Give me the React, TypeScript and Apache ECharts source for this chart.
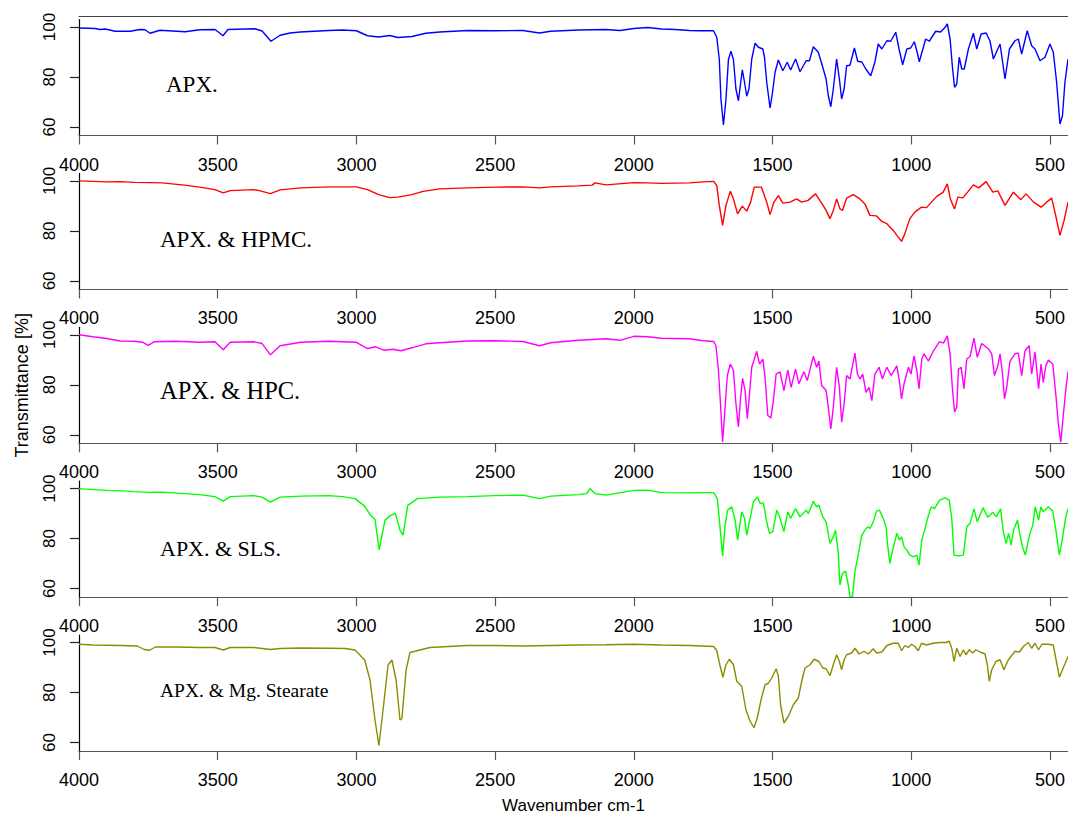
import React, { useEffect, useRef } from "react";
import * as echarts from "echarts";

// ---- data (wavenumber cm-1, transmittance %) ----
const xTicks = [4000, 3500, 3000, 2500, 2000, 1500, 1000, 500];
const yTicks = [60, 80, 100];
const panelLabels = ["APX.", "APX. & HPMC.", "APX. & HPC.", "APX. & SLS.", "APX. & Mg. Stearate"];
const seriesColors = ["#0000ff", "#ff0000", "#ff00ff", "#00ff00", "#8c8c00"];

const apx: [number, number][] = [
  [4000, 99.6], [3942, 99.4], [3924, 99.0], [3906, 99.2], [3870, 98.3], [3816, 98.3], [3780, 99.0], [3762, 98.9],
  [3744, 97.5], [3708, 98.7], [3618, 98.1], [3564, 98.9], [3510, 99.0], [3499, 98.1], [3481, 96.5], [3463, 99.0],
  [3366, 99.3], [3340, 98.4], [3308, 94.3], [3275, 96.7], [3239, 97.6], [3203, 98.0], [3100, 98.6], [3050, 98.8],
  [3000, 98.5], [2960, 96.5], [2920, 96.0], [2880, 96.6], [2850, 95.8], [2800, 96.2], [2750, 97.5], [2700, 98.0],
  [2600, 98.6], [2500, 98.5], [2400, 98.6], [2340, 97.6], [2300, 98.3], [2200, 98.8], [2100, 99.0], [2050, 98.6],
  [2000, 99.4], [1950, 99.8], [1900, 99.2], [1850, 99.0], [1800, 98.6], [1762, 98.5], [1713, 98.5], [1701, 95.9],
  [1692, 87.2], [1686, 71.2], [1677, 60.8], [1668, 71.0], [1659, 87.0], [1650, 90.3], [1641, 87.0], [1632, 75.2],
  [1623, 70.5], [1609, 82.9], [1601, 77.9], [1593, 72.3], [1585, 75.2], [1575, 87.2], [1563, 93.5], [1551, 91.9],
  [1535, 91.2], [1529, 87.9], [1521, 77.9], [1509, 67.6], [1501, 73.1], [1491, 81.9], [1479, 86.8], [1463, 82.5],
  [1447, 85.9], [1435, 82.8], [1417, 87.2], [1401, 82.1], [1379, 86.5], [1367, 86.5], [1353, 92.1], [1335, 89.9],
  [1319, 83.9], [1307, 79.2], [1299, 72.5], [1290, 68.1], [1281, 75.2], [1269, 87.2], [1259, 79.2], [1251, 71.2],
  [1242, 75.2], [1233, 84.5], [1221, 84.7], [1205, 91.6], [1193, 86.3], [1178, 86.0], [1164, 83.2], [1146, 80.5],
  [1131, 86.0], [1119, 93.2], [1106, 91.2], [1088, 94.5], [1074, 94.3], [1056, 97.9], [1044, 91.2], [1031, 84.9],
  [1016, 91.2], [1002, 91.6], [989, 94.1], [980, 90.5], [971, 86.1], [960, 90.5], [948, 95.2], [935, 94.3],
  [912, 98.3], [894, 98.0], [878, 99.9], [870, 101.2], [860, 95.2], [852, 84.5], [844, 75.9], [836, 77.2],
  [827, 87.9], [818, 83.2], [809, 83.2], [794, 91.2], [776, 97.5], [764, 91.2], [748, 97.2], [730, 97.6],
  [716, 94.3], [704, 87.2], [688, 91.2], [680, 93.2], [662, 79.2], [646, 91.2], [626, 94.5], [614, 95.2],
  [602, 89.2], [582, 98.5], [566, 92.5], [554, 91.2], [536, 86.5], [518, 87.9], [500, 93.2], [488, 89.9],
  [476, 77.9], [464, 61.2], [455, 64.5], [446, 77.9], [435, 87.2],
];

const apxHpmc: [number, number][] = [
  [4000, 100.0], [3950, 99.8], [3900, 99.6], [3850, 99.7], [3800, 99.4], [3745, 99.3], [3700, 99.2], [3620, 98.3],
  [3565, 97.5], [3510, 96.5], [3480, 95.2], [3455, 96.1], [3370, 96.5], [3350, 96.1], [3310, 94.9], [3275, 96.4],
  [3200, 97.2], [3100, 97.6], [3000, 97.6], [2960, 96.5], [2920, 94.5], [2880, 93.3], [2850, 93.5], [2800, 94.5],
  [2760, 95.8], [2700, 96.8], [2600, 97.2], [2500, 97.5], [2400, 97.6], [2340, 97.2], [2300, 97.6], [2200, 98.0],
  [2150, 98.3], [2140, 99.2], [2100, 98.4], [2000, 99.3], [1950, 99.2], [1900, 99.0], [1800, 99.2], [1750, 99.6],
  [1712, 99.8], [1701, 98.1], [1692, 90.2], [1680, 82.2], [1668, 90.2], [1652, 95.9], [1641, 92.8], [1626, 86.8],
  [1609, 89.9], [1593, 87.9], [1579, 91.5], [1566, 97.5], [1540, 97.5], [1521, 91.5], [1509, 86.5], [1495, 91.5],
  [1479, 94.1], [1463, 91.1], [1437, 91.5], [1413, 92.8], [1395, 91.5], [1372, 92.2], [1345, 94.8], [1324, 91.3],
  [1307, 88.2], [1293, 84.9], [1281, 88.2], [1269, 92.8], [1257, 88.8], [1248, 88.2], [1233, 93.1], [1209, 94.5],
  [1185, 92.8], [1167, 90.8], [1149, 86.2], [1125, 86.0], [1106, 83.8], [1088, 82.9], [1065, 80.2], [1047, 77.5],
  [1035, 75.8], [1023, 78.9], [1005, 84.9], [987, 87.5], [963, 89.5], [945, 89.3], [927, 91.5], [909, 93.7],
  [885, 95.5], [870, 98.8], [859, 92.8], [844, 88.8], [832, 93.5], [814, 93.2], [797, 95.5], [776, 98.4],
  [757, 97.2], [730, 99.7], [706, 95.5], [688, 96.0], [662, 90.2], [632, 95.5], [605, 92.5], [586, 94.8],
  [560, 91.6], [532, 89.5], [512, 91.5], [494, 93.1], [482, 87.5], [464, 78.2], [449, 84.2], [435, 91.5],
];

const apxHpc: [number, number][] = [
  [4000, 100.0], [3950, 99.2], [3900, 98.5], [3852, 97.5], [3800, 97.4], [3770, 97.0], [3750, 95.8], [3730, 97.2],
  [3650, 97.4], [3565, 97.0], [3510, 97.2], [3480, 94.0], [3455, 97.0], [3370, 97.2], [3340, 96.5], [3310, 92.0],
  [3275, 95.6], [3200, 97.0], [3100, 97.4], [3000, 97.0], [2960, 94.5], [2930, 95.2], [2900, 93.8], [2870, 94.2],
  [2840, 93.6], [2800, 94.8], [2750, 96.4], [2700, 96.8], [2600, 97.5], [2500, 97.6], [2400, 97.3], [2340, 95.6],
  [2300, 96.8], [2200, 97.8], [2100, 98.4], [2050, 97.8], [2000, 99.4], [1950, 99.2], [1900, 98.6], [1800, 98.4],
  [1750, 97.6], [1712, 97.3], [1704, 95.6], [1695, 85.7], [1687, 71.0], [1680, 57.1], [1671, 71.0], [1663, 83.7],
  [1652, 88.3], [1641, 85.7], [1632, 72.4], [1623, 63.1], [1615, 75.0], [1608, 82.6], [1599, 77.7], [1591, 66.4],
  [1584, 75.0], [1575, 87.0], [1557, 93.4], [1547, 88.3], [1535, 90.3], [1527, 83.0], [1517, 67.7], [1506, 66.7],
  [1497, 73.7], [1487, 84.3], [1473, 85.2], [1459, 77.7], [1445, 85.9], [1433, 79.0], [1417, 86.3], [1405, 80.4],
  [1387, 85.2], [1375, 81.7], [1353, 91.4], [1341, 87.0], [1333, 89.5], [1323, 79.7], [1307, 77.7], [1299, 71.0],
  [1290, 62.4], [1281, 71.0], [1269, 87.0], [1259, 79.0], [1251, 65.1], [1242, 72.4], [1233, 83.7], [1221, 82.3],
  [1203, 92.7], [1194, 84.3], [1185, 82.3], [1175, 84.3], [1163, 77.0], [1152, 79.0], [1142, 73.7], [1131, 84.3],
  [1116, 87.0], [1104, 82.3], [1088, 87.0], [1073, 83.7], [1052, 87.6], [1043, 81.7], [1035, 74.4], [1026, 80.4],
  [1010, 87.0], [1001, 84.3], [990, 91.6], [980, 85.7], [972, 78.4], [962, 90.3], [954, 92.4], [938, 89.5],
  [920, 93.6], [898, 97.3], [884, 96.7], [870, 99.6], [860, 92.4], [852, 79.0], [844, 69.1], [836, 71.0],
  [830, 86.3], [820, 87.0], [810, 78.4], [800, 90.3], [788, 91.3], [774, 98.7], [762, 91.0], [746, 96.5],
  [722, 94.4], [710, 92.4], [700, 83.7], [688, 87.6], [680, 92.4], [671, 84.3], [664, 74.4], [656, 79.0],
  [644, 89.5], [626, 92.4], [614, 92.7], [602, 83.7], [590, 93.6], [575, 95.6], [566, 84.3], [554, 93.2],
  [541, 78.4], [532, 88.3], [524, 81.0], [515, 87.6], [506, 89.9], [490, 88.3], [478, 75.0], [470, 64.4],
  [461, 57.1], [452, 67.7], [442, 79.0], [435, 85.2],
];

const apxSls: [number, number][] = [
  [4000, 100.0], [3950, 99.6], [3900, 99.3], [3850, 99.2], [3800, 98.8], [3745, 98.5], [3700, 98.6], [3620, 98.0],
  [3565, 97.6], [3510, 96.8], [3480, 95.0], [3455, 96.8], [3370, 97.2], [3340, 96.6], [3310, 94.6], [3275, 96.6],
  [3200, 97.0], [3100, 97.2], [3050, 96.8], [3005, 96.0], [2970, 93.0], [2950, 89.4], [2933, 87.6], [2918, 75.5],
  [2897, 87.4], [2880, 89.0], [2860, 90.2], [2843, 83.4], [2832, 81.4], [2815, 93.3], [2780, 96.0], [2700, 96.6],
  [2600, 96.8], [2500, 97.2], [2400, 97.4], [2340, 96.0], [2300, 97.0], [2200, 97.6], [2170, 98.0], [2158, 100.0],
  [2140, 98.0], [2100, 97.4], [2000, 99.3], [1950, 99.4], [1900, 98.4], [1800, 98.3], [1750, 98.4], [1712, 98.4],
  [1699, 96.0], [1690, 85.4], [1680, 73.0], [1671, 85.4], [1662, 91.4], [1647, 92.7], [1635, 87.4], [1626, 79.4],
  [1611, 90.7], [1601, 88.1], [1593, 81.4], [1581, 88.1], [1569, 94.7], [1555, 96.7], [1545, 94.1], [1533, 94.3],
  [1521, 86.7], [1511, 82.1], [1499, 82.8], [1485, 91.4], [1473, 88.1], [1459, 82.8], [1445, 90.7], [1435, 88.1],
  [1417, 92.0], [1401, 88.7], [1379, 91.4], [1371, 90.0], [1353, 94.9], [1341, 92.7], [1333, 93.4], [1319, 88.7],
  [1307, 86.7], [1293, 78.1], [1281, 80.7], [1273, 83.4], [1263, 74.1], [1257, 61.5], [1248, 66.1], [1237, 67.0],
  [1227, 61.5], [1221, 56.8], [1212, 56.8], [1203, 67.0], [1191, 73.7], [1179, 81.1], [1167, 83.4], [1157, 84.7],
  [1149, 84.1], [1139, 86.1], [1125, 91.0], [1115, 91.4], [1101, 88.1], [1091, 84.7], [1085, 77.4], [1077, 70.1],
  [1067, 75.4], [1052, 82.1], [1043, 79.4], [1035, 80.7], [1026, 76.7], [1016, 75.4], [1005, 73.4], [992, 72.7],
  [980, 73.4], [972, 69.4], [962, 79.4], [950, 84.1], [938, 89.4], [928, 92.7], [916, 92.0], [898, 95.4],
  [878, 96.3], [863, 95.4], [854, 88.1], [846, 73.4], [830, 73.1], [812, 73.4], [800, 84.7], [788, 86.1],
  [774, 91.9], [762, 86.7], [741, 92.4], [724, 88.5], [706, 90.5], [693, 88.7], [678, 91.9], [668, 82.8],
  [658, 78.1], [649, 82.1], [640, 77.4], [631, 83.4], [617, 87.4], [608, 81.4], [599, 76.7], [589, 73.4],
  [574, 81.4], [562, 85.4], [553, 92.7], [541, 87.4], [533, 92.7], [524, 90.7], [506, 92.7], [490, 91.0],
  [478, 82.8], [466, 73.4], [455, 80.1], [444, 88.1], [435, 92.0],
];

const apxMgSt: [number, number][] = [
  [4000, 99.3], [3950, 99.0], [3900, 98.9], [3850, 98.8], [3790, 98.6], [3765, 97.2], [3745, 96.9], [3725, 98.2],
  [3650, 98.2], [3565, 98.0], [3510, 98.0], [3480, 97.0], [3455, 98.0], [3370, 98.0], [3310, 97.2], [3275, 97.6],
  [3200, 97.8], [3100, 97.7], [3040, 97.6], [3005, 97.0], [2970, 93.0], [2951, 85.0], [2933, 69.0], [2919, 58.8],
  [2904, 73.0], [2886, 91.0], [2872, 93.0], [2857, 85.0], [2843, 69.0], [2836, 69.5], [2821, 89.0], [2807, 96.0],
  [2735, 98.0], [2600, 98.8], [2500, 98.8], [2400, 98.6], [2300, 98.8], [2200, 99.0], [2100, 99.1], [2000, 99.3],
  [1900, 99.0], [1800, 98.8], [1712, 98.4], [1701, 96.7], [1690, 91.1], [1679, 86.1], [1668, 91.1], [1656, 93.3],
  [1641, 91.1], [1629, 84.5], [1611, 82.5], [1596, 73.1], [1581, 68.5], [1567, 65.9], [1555, 69.8], [1540, 77.8],
  [1527, 83.1], [1515, 83.7], [1503, 85.8], [1487, 89.5], [1479, 86.5], [1471, 75.1], [1459, 67.8], [1443, 70.5],
  [1425, 75.1], [1407, 77.8], [1395, 84.5], [1383, 89.8], [1365, 91.1], [1350, 93.3], [1333, 92.4], [1319, 89.8],
  [1307, 89.5], [1293, 86.7], [1281, 91.1], [1269, 95.1], [1259, 92.4], [1251, 89.1], [1242, 93.1], [1233, 95.1],
  [1215, 95.8], [1203, 97.7], [1188, 95.4], [1170, 96.5], [1155, 95.4], [1137, 97.5], [1125, 95.8], [1106, 96.2],
  [1088, 98.8], [1065, 99.7], [1047, 99.7], [1035, 96.7], [1023, 98.8], [1011, 98.0], [999, 99.3], [987, 98.4],
  [975, 96.7], [963, 99.7], [945, 99.0], [921, 99.7], [897, 100.0], [875, 100.0], [863, 100.5], [854, 97.7],
  [846, 92.4], [836, 97.7], [824, 94.4], [812, 97.1], [803, 95.1], [791, 97.1], [779, 95.8], [767, 97.1],
  [752, 96.2], [734, 95.4], [726, 91.1], [719, 84.5], [710, 89.1], [695, 92.4], [680, 93.1], [666, 89.1],
  [650, 93.1], [626, 96.5], [610, 96.2], [596, 98.4], [578, 100.0], [566, 97.7], [554, 99.7], [541, 97.1],
  [529, 99.3], [506, 99.3], [488, 99.0], [478, 93.1], [466, 86.1], [455, 89.1], [435, 94.4],
];

const spectra = [apx, apxHpmc, apxHpc, apxSls, apxMgSt];

// ---- layout ----
const W = 1068;
const H = 818;
const LEFT = 79;
const PANEL_BOTTOMS = [135.5, 289.4, 443.3, 597.1, 751];
const PANEL_H = 116;
const LABEL_POS = [
  [166, 84],
  [160, 239],
  [160, 390],
  [160, 548],
  [160, 690],
];
const LABEL_SIZES = [23, 23, 24.5, 22, 19.5];

export default function App() {
  const ref = useRef<HTMLDivElement>(null);
  useEffect(() => {
    if (!ref.current) return;
    const chart = echarts.init(ref.current, undefined, { renderer: "svg" });
    const grids = PANEL_BOTTOMS.map((b) => ({
      left: LEFT,
      right: 0,
      top: b - PANEL_H,
      height: PANEL_H,
      containLabel: false,
    }));
    const sans = "'Liberation Sans', Arial, sans-serif";
    const xAxes: any[] = PANEL_BOTTOMS.map((_, i) => ({
      type: "value",
      gridIndex: i,
      min: 435,
      max: 4000,
      inverse: true,
      position: "bottom",
      name: i === 4 ? "Wavenumber cm-1" : "",
      nameLocation: "middle",
      nameGap: 46,
      nameTextStyle: { fontSize: 17, color: "#000", fontFamily: sans },
      axisLine: { show: true, onZero: false, lineStyle: { color: "#555", width: 1.2 } },
      axisTick: { show: true, length: 9, customValues: xTicks, lineStyle: { color: "#555", width: 1.2 } },
      axisLabel: {
        customValues: xTicks,
        formatter: (v: number) => String(v),
        fontSize: 18,
        color: "#000",
        margin: 20,
        fontFamily: sans,
      },
      splitLine: { show: false },
    }));
    xAxes.push({
      type: "value",
      gridIndex: 0,
      min: 435,
      max: 4000,
      inverse: true,
      position: "top",
      offset: 3,
      axisLine: { show: true, onZero: false, lineStyle: { color: "#444", width: 1.2 } },
      axisTick: { show: false },
      axisLabel: { show: false },
      splitLine: { show: false },
    });
    const yAxes = PANEL_BOTTOMS.map((_, i) => ({
      type: "value",
      gridIndex: i,
      min: 56.6,
      max: 103,
      name: i === 2 ? "Transmittance [%]" : "",
      nameLocation: "middle",
      nameGap: 48,
      nameRotate: 90,
      nameTextStyle: { fontSize: 18, color: "#000", fontFamily: sans },
      axisLine: { show: true, onZero: false, lineStyle: { color: "#000", width: 1.2 } },
      axisTick: { show: true, length: 9, customValues: yTicks, lineStyle: { color: "#222", width: 1.2 } },
      axisLabel: {
        customValues: yTicks,
        formatter: (v: number) => String(v),
        rotate: 90,
        fontSize: 17,
        color: "#000",
        margin: 21,
        fontFamily: sans,
      },
      splitLine: { show: false },
    }));
    const series = spectra.map((d, i) => ({
      type: "line",
      name: panelLabels[i],
      xAxisIndex: i,
      yAxisIndex: i,
      data: d,
      showSymbol: false,
      symbol: "none",
      lineStyle: { color: seriesColors[i], width: 1.4 },
      itemStyle: { color: seriesColors[i] },
      clip: true,
    }));
    const graphic = panelLabels.map((t, i) => ({
      type: "text",
      x: LABEL_POS[i][0],
      y: LABEL_POS[i][1],
      style: {
        text: t,
        fill: "#000",
        font: `${LABEL_SIZES[i]}px 'Liberation Serif', 'Times New Roman', serif`,
        align: "left",
        verticalAlign: "middle",
      },
    }));
    chart.setOption({
      animation: false,
      backgroundColor: "#fff",
      grid: grids,
      xAxis: xAxes,
      yAxis: yAxes,
      series,
      graphic,
    });
    return () => chart.dispose();
  }, []);
  return (
    <div
      ref={ref}
      style={{ position: "absolute", left: 0, top: 0, width: W, height: H }}
    />
  );
}
